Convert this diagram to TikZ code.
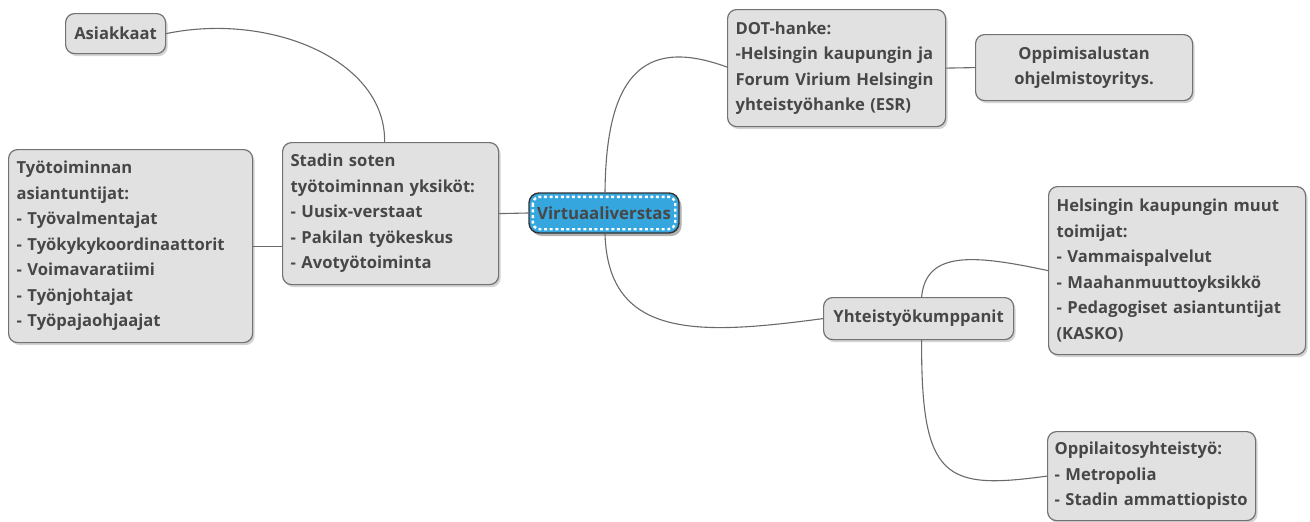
\documentclass[tikz,border=0pt]{standalone}
\usepackage{fontspec}
\setmainfont{Open Sans}
\usetikzlibrary{shadows}

\definecolor{boxfill}{HTML}{E1E1E1}
\definecolor{boxline}{HTML}{727272}
\definecolor{txtgray}{HTML}{474747}
\definecolor{hubblue}{HTML}{36A7DE}
\definecolor{linkgray}{HTML}{6A6A6A}

\tikzset{
  topic/.style={
    draw=boxline,
    fill=boxfill,
    line width=1.2pt,
    rounded corners=9pt,
    anchor=north west,
    align=left,
    inner xsep=8pt,
    inner ysep=0pt,
    text=txtgray,
    font=\bfseries\fontsize{16.6}{25.5}\selectfont,
    drop shadow={shadow xshift=2pt, shadow yshift=-2.5pt, opacity=0.35},
  },
  link/.style={draw=linkgray, line width=1.1pt},
}

\begin{document}
\begin{tikzpicture}[x=1pt, y=-1pt]
    \useasboundingbox (0,0) rectangle (1310,522);

    % left side
    \node[topic, align=center, minimum width=100pt, minimum height=40pt] (asiak) at (65,13) {Asiakkaat};
    \node[topic, text width=200pt, minimum height=142pt] (stadin) at (282,142) {Stadin soten\\työtoiminnan yksiköt:\\- Uusix-verstaat\\- Pakilan työkeskus\\- Avotyötoiminta};
    \node[topic, text width=228pt, minimum height=193pt] (tyo) at (8,149) {Työtoiminnan\\asiantuntijat:\\- Työvalmentajat\\- Työkykykoordinaattorit\\- Voimavaratiimi\\- Työnjohtajat\\- Työpajaohjaajat};

    % centre
    \node[draw=black!80, fill=hubblue, line width=1.4pt, rounded corners=10pt,
          minimum width=150pt, minimum height=40pt, inner sep=0pt, text=txtgray,
          font=\bfseries\fontsize{16.8}{20}\selectfont,
          drop shadow={shadow xshift=2.5pt, shadow yshift=-3pt, opacity=0.6}] (hub) at (604,213) {Virtuaaliverstas};
    \draw[white, line width=2.4pt, dash pattern=on 3pt off 2.6pt, rounded corners=7pt]
      ([xshift=4.5pt,yshift=-4.5pt]hub.north west) rectangle ([xshift=-4.5pt,yshift=4.5pt]hub.south east);

    % right side
    \node[topic, text width=202pt, minimum height=117pt] (dot) at (727,9) {DOT-hanke:\\-Helsingin kaupungin ja\\Forum Virium Helsingin\\yhteistyöhanke (ESR)};
    \node[topic, align=center, minimum width=217pt, minimum height=66pt] (ohjelm) at (975,34) {Oppimisalustan\\ohjelmistoyritys.};
    \node[topic, align=center, minimum width=190pt, minimum height=42pt] (yht) at (823,297) {Yhteistyökumppanit};
    \node[topic, text width=241pt, minimum height=168pt] (muut) at (1048,186) {Helsingin kaupungin muut\\toimijat:\\- Vammaispalvelut\\- Maahanmuuttoyksikkö\\- Pedagogiset asiantuntijat\\(KASKO)};
    \node[topic, text width=194pt, inner xsep=7pt, minimum height=89pt] (oppil) at (1047,431) {Oppilaitosyhteistyö:\\- Metropolia\\- \mbox{Stadin ammattiopisto}};

    % connectors
    \draw[link] (hub.west) -- (stadin.east);
    \draw[link] (stadin.west |- tyo.east) -- (tyo.east);
    \draw[link] (asiak.east) .. controls (270,12) and (386,60) .. ([xshift=-6pt]stadin.north);
    \draw[link] ([xshift=1pt]hub.north) .. controls (606,80) and (640,35) .. ([yshift=1pt]dot.west);
    \draw[link] ([xshift=1pt]hub.south) .. controls (608,340) and (700,335) .. (yht.west);
    \draw[link] (dot.east) -- (ohjelm.west);
    \draw[link] ([xshift=3pt]yht.north) .. controls (926,250) and (975,255) .. (muut.west);
    \draw[link] ([xshift=3pt]yht.south) .. controls (921,480) and (945,490) .. (oppil.west);
\end{tikzpicture}
\end{document}
